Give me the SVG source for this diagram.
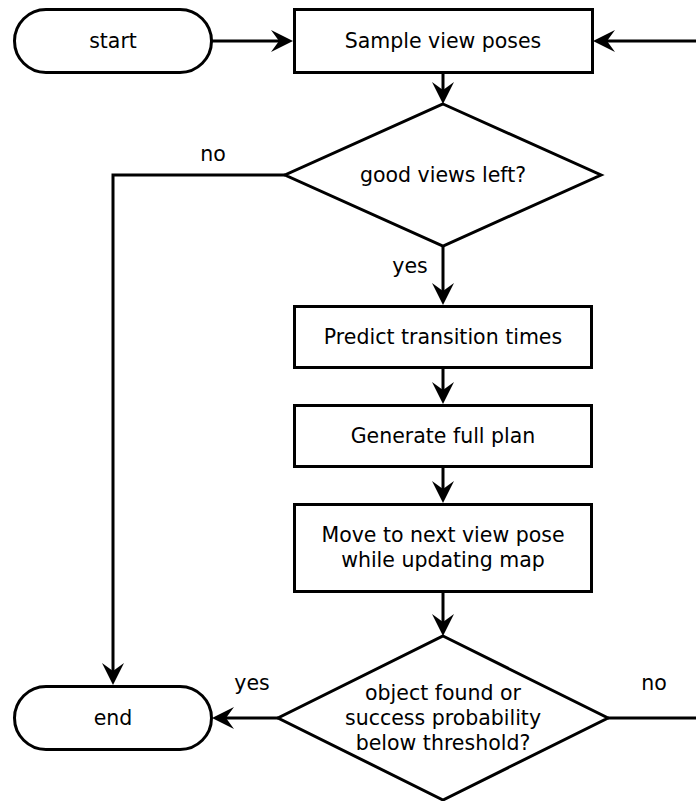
<svg xmlns="http://www.w3.org/2000/svg" width="696" height="801" viewBox="0 0 696 801">
  <style>
    .shape { fill: #ffffff; stroke: #000000; stroke-width: 3; }
    .label { font-family: "DejaVu Sans", "Liberation Sans", sans-serif; font-size: 20.5px; fill: #000000; text-anchor: middle; }
    .edge { fill: none; stroke: #000000; stroke-width: 3; stroke-linejoin: miter; }
  </style>
  <defs>
    <!-- notched arrowhead; refX sits on the notch so the tip reaches the target -->
    <marker id="arrow" markerUnits="userSpaceOnUse" viewBox="0 0 22 22" refX="8" refY="11" markerWidth="22" markerHeight="22" orient="auto">
      <path d="M0,0 L22,11 L0,22 L8,11 Z" fill="#000000"/>
    </marker>
  </defs>

  <rect width="696" height="801" fill="#ffffff"/>

  <g id="connectors">
    <path class="edge" d="M212,41 H279" marker-end="url(#arrow)"/>
    <path class="edge" d="M608,718 H712 V41 H607" marker-end="url(#arrow)"/>
    <path class="edge" d="M443,73 V90" marker-end="url(#arrow)"/>
    <path class="edge" d="M285,175 H113 V671" marker-end="url(#arrow)"/>
    <path class="edge" d="M443,246 V291" marker-end="url(#arrow)"/>
    <path class="edge" d="M443,368 V390" marker-end="url(#arrow)"/>
    <path class="edge" d="M443,467 V489" marker-end="url(#arrow)"/>
    <path class="edge" d="M443,593 V622" marker-end="url(#arrow)"/>
    <path class="edge" d="M278,718 H226" marker-end="url(#arrow)"/>
    <text class="label" x="213" y="161">no</text>
    <text class="label" x="410" y="273">yes</text>
    <text class="label" x="252" y="690">yes</text>
    <text class="label" x="654" y="690">no</text>
  </g>

  <g id="start">
    <rect class="shape" x="14.5" y="9.5" width="197" height="63" rx="31.5"/>
    <text class="label" x="113" y="48">start</text>
  </g>

  <g id="sample">
    <rect class="shape" x="294.5" y="9.5" width="298" height="63"/>
    <text class="label" x="443" y="48">Sample view poses</text>
  </g>

  <g id="views-left">
    <polygon class="shape" points="443,104 601,175 443,246 285,175"/>
    <text class="label" x="443" y="182">good views left?</text>
  </g>

  <g id="predict">
    <rect class="shape" x="294.5" y="306.5" width="297" height="61"/>
    <text class="label" x="443" y="344">Predict transition times</text>
  </g>

  <g id="generate">
    <rect class="shape" x="294.5" y="405.5" width="297" height="61"/>
    <text class="label" x="443" y="443">Generate full plan</text>
  </g>

  <g id="move">
    <rect class="shape" x="294.5" y="504.5" width="297" height="87"/>
    <text class="label" x="443" y="542">Move to next view pose</text>
    <text class="label" x="443" y="567">while updating map</text>
  </g>

  <g id="found">
    <polygon class="shape" points="443,636 608,718 443,800 278,718"/>
    <text class="label" x="443" y="700">object found or</text>
    <text class="label" x="443" y="725">success probability</text>
    <text class="label" x="443" y="750">below threshold?</text>
  </g>

  <g id="end">
    <rect class="shape" x="14.5" y="686.5" width="197" height="63" rx="31.5"/>
    <text class="label" x="113" y="725">end</text>
  </g>
</svg>
